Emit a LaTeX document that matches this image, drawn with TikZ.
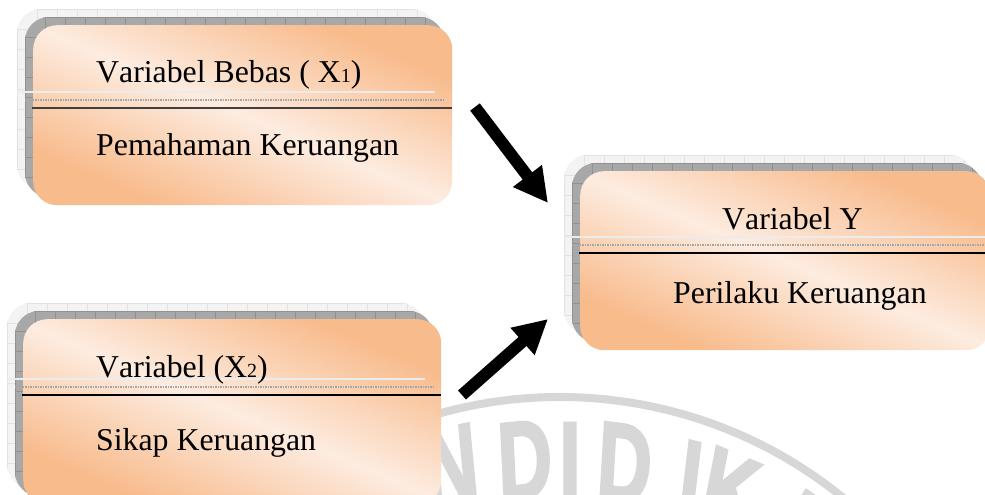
\documentclass[tikz,border=0pt]{standalone}
\usepackage{fontspec}
\setmainfont{Liberation Serif}[Kerning=Off]
\newfontfamily\wmfont{Liberation Sans Bold}[FakeBold=3]
\usetikzlibrary{arrows.meta}
\definecolor{org}{RGB}{248,187,140}
\definecolor{lgt}{RGB}{253,236,224}
\definecolor{wm}{RGB}{215,215,215}
\definecolor{shl}{RGB}{243,243,243}
\definecolor{shlg}{RGB}{226,226,226}
\definecolor{shd}{RGB}{168,168,168}
\definecolor{shdg}{RGB}{145,145,145}
\pgfdeclareverticalshading{oshade}{100bp}{color(0bp)=(org); color(27bp)=(org); color(50bp)=(lgt); color(73bp)=(org); color(100bp)=(org)}
\tikzset{
  obox/.style={rounded corners=24pt, inner sep=0pt, draw=none,
    shading=oshade, shading angle=-23},
  lbl/.style={inner sep=0pt, anchor=base west, font=\fontsize{31.8}{36}\selectfont},
  wml/.style={inner sep=0pt, anchor=north, text=wm, xscale=0.68,
    font=\wmfont\fontsize{110}{110}\selectfont},
  arr/.style={line width=12pt, -{Triangle[length=34pt,width=34pt]}},
  lightline/.style={white!85!gray, line width=2pt},
  dotline/.style={gray!70, line width=1.5pt, densely dotted},
}
\newcommand\shadowlayers[4]{%
  \begin{scope}
    \clip[rounded corners=24pt] ({#1-16},{#2-16}) rectangle ++(#3,#4);
    \fill[shl] ({#1-16},{#2-16}) rectangle ++(#3,#4);
    \foreach \k in {0,...,22}{\draw[shlg, line width=0.8pt] ({#1-16+20*\k},{#2-16}) -- ++(0,#4);}
    \foreach \k in {0,...,10}{\draw[shlg, line width=0.8pt] ({#1-16},{#2-16+20*\k}) -- ++(#3,0);}
  \end{scope}
  \begin{scope}
    \clip[rounded corners=24pt] ({#1-8},{#2-8}) rectangle ++(#3,#4);
    \fill[shd] ({#1-8},{#2-8}) rectangle ++(#3,#4);
    \foreach \k in {0,...,22}{\draw[shdg, line width=0.8pt] ({#1-8+20*\k},{#2-8}) -- ++(0,#4);}
    \foreach \k in {0,...,10}{\draw[shdg, line width=0.8pt] ({#1-8},{#2-8+20*\k}) -- ++(#3,0);}
  \end{scope}
}
\begin{document}
\begin{tikzpicture}[x=1pt,y=-1pt]
\useasboundingbox (0,0) rectangle (985,495);
\fill[white] (0,0) rectangle (985,495);
% watermark
\draw[wm, line width=8pt] (560,845) ++(240:448) arc[start angle=240, end angle=320, radius=448];
\node[wml, rotate=8] (w1) at (447,428) {N};
\node[wml, rotate=4] (w2) at (523,422) {D};
\node[wml, rotate=0] (w3) at (570,423) {I};
\node[wml, rotate=-5] (w4) at (627,425) {D};
\node[wml, rotate=-10] (w5) at (695,442) {I};
\node[wml, rotate=-16] (w6) at (738,455) {K};
\node[wml, rotate=-25] (w7) at (812,494) {A};
% shadows
\shadowlayers{33}{25}{419}{180}
\shadowlayers{580}{171}{410}{179}
\shadowlayers{23}{319}{418}{185}
% boxes
\node[obox, anchor=north west, minimum width=419pt, minimum height=180pt] (b1) at (33,25) {};
\node[obox, anchor=north west, minimum width=410pt, minimum height=179pt] (b2) at (580,171) {};
\node[obox, anchor=north west, minimum width=418pt, minimum height=185pt] (b3) at (23,319) {};
% dividers
\draw[lightline] (17,92) -- (435,92);
\draw[dotline] (25,100) -- (443,100);
\draw[line width=2.6pt, black!75] (32,108) -- (452,108);
\draw[lightline] (564,237) -- (985,237);
\draw[dotline] (572,245) -- (985,245);
\draw[line width=2.6pt, black] (579,253) -- (985,253);
\draw[lightline] (7,379) -- (425,379);
\draw[dotline] (15,387) -- (433,387);
\draw[line width=2.6pt, black] (22,395) -- (441,395);
% texts
\node[lbl] (t1) at (96,82) {Variabel Bebas ( X{\fontsize{20}{20}\selectfont 1})};
\node[lbl] (t2) at (96,155) {Pemahaman Keruangan};
\node[lbl] (t3) at (722,229) {Variabel Y};
\node[lbl] (t4) at (673,303) {Perilaku Keruangan};
\node[lbl] (t5) at (96,377) {Variabel (X{\fontsize{20}{20}\selectfont 2})};
\node[lbl] (t6) at (96,450) {Sikap Keruangan};
% arrows
\coordinate (a1s) at (475,107);
\coordinate (a1e) at (548,203);
\coordinate (a2s) at (462,395);
\coordinate (a2e) at (548,319);
\draw[arr] (a1s) -- (a1e);
\draw[arr] (a2s) -- (a2e);
\end{tikzpicture}
\end{document}
